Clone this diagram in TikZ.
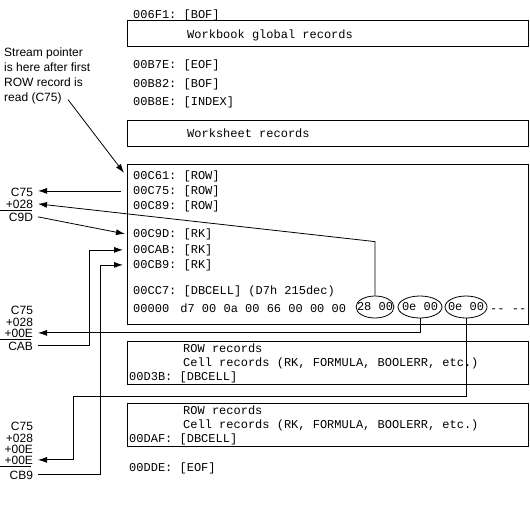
\documentclass[tikz,border=0pt]{standalone}
\usepackage{fontspec}
\setmonofont{Liberation Mono}
\setsansfont{Liberation Sans}
\usetikzlibrary{arrows.meta,shapes.geometric}

\begin{document}
\begin{tikzpicture}[
    x=1pt, y=-1pt,
    rec/.style={font=\ttfamily\fontsize{12}{14}\selectfont, inner sep=0pt, anchor=base west},
    tag/.style={font=\sffamily\fontsize{12}{13}\selectfont, inner sep=0pt, outer xsep=5pt, anchor=base east},
    frame/.style={draw, line width=0.8pt, anchor=north west, minimum width=401pt, inner sep=0pt},
    hexel/.style={draw, ellipse, line width=0.8pt, inner xsep=-6pt, inner ysep=0pt, minimum height=22pt,
                  font=\ttfamily\fontsize{12}{14}\selectfont},
    ptr/.style={-{Latex[length=9pt,width=6pt]}, line width=0.8pt}
  ]
    \useasboundingbox (0,0) rectangle (530,515);

    % workbook stream
    \node[rec] (bof1) at (133,18) {006F1: [BOF]};
    \node[frame, minimum height=26pt] (wbbox) at (127,20) {};
    \node[rec] (wbtxt) at (187,38) {Workbook global records};
    \node[rec] (eof1) at (133,68) {00B7E: [EOF]};
    \node[rec] (bof2) at (133,87) {00B82: [BOF]};
    \node[rec] (idx) at (133,105) {00B8E: [INDEX]};
    \node[frame, minimum height=26pt] (wsbox) at (127,120) {};
    \node[rec] (wstxt) at (187,137) {Worksheet records};

    % first row block
    \node[frame, minimum height=160pt] (blk1) at (127,164) {};
    \node[rec] (r61) at (133,179) {00C61: [ROW]};
    \node[rec] (r75) at (133,194) {00C75: [ROW]};
    \node[rec] (r89) at (133,209) {00C89: [ROW]};
    \node[rec] (r9D) at (133,237) {00C9D: [RK]};
    \node[rec] (rAB) at (133,253) {00CAB: [RK]};
    \node[rec] (rB9) at (133,268) {00CB9: [RK]};
    \node[rec] (rC7) at (133,294) {00CC7: [DBCELL] (D7h 215dec)};
    \node[rec] (hex) at (133,312) {00000\hspace{4pt} d7 00 0a 00 66 00 00 00};
    \node[hexel, minimum width=38pt] (e28) at (375,307) {28 00};
    \node[hexel, minimum width=44pt] (e0e1) at (420,307) {0e 00};
    \node[hexel, minimum width=42pt] (e0e2) at (466,307) {0e 00};
    \node[rec] (rest) at (490,312) {-{}- -{}-};

    % next row blocks
    \node[frame, minimum height=43pt] (blk2) at (127,341) {};
    \node[rec] (b2row) at (183,352) {ROW records};
    \node[rec] (b2cell) at (183,366) {Cell records (RK, FORMULA, BOOLERR, etc.)};
    \node[rec] (b2db) at (129,380) {00D3B: [DBCELL]};
    \node[frame, minimum height=43pt] (blk3) at (127,403) {};
    \node[rec] (b3row) at (183,414) {ROW records};
    \node[rec] (b3cell) at (183,428) {Cell records (RK, FORMULA, BOOLERR, etc.)};
    \node[rec] (b3db) at (129,442) {00DAF: [DBCELL]};
    \node[rec] (eof2) at (129,471) {00DDE: [EOF]};

    % offset sums
    \node[font=\sffamily\fontsize{12}{15}\selectfont, align=left, inner sep=0pt, anchor=north west]
      (note) at (4,48) {Stream pointer\\is here after first\\ROW record is\\read (C75)};
    \node[tag] (tC75a) at (38,196) {C75};
    \node[tag] (t028a) at (38,208) {+028};
    \node[tag] (tC9D) at (38,221) {C9D};
    \node[tag] (tC75b) at (38,314) {C75};
    \node[tag] (t028b) at (38,326) {+028};
    \node[tag] (t00Ea) at (38,337) {+00E};
    \node[tag] (tCAB) at (38,350) {CAB};
    \node[tag] (tC75c) at (38,430) {C75};
    \node[tag] (t028c) at (38,442) {+028};
    \node[tag] (t00Eb) at (38,453) {+00E};
    \node[tag] (t00Ec) at (38,464) {+00E};
    \node[tag] (tCB9) at (38,479) {CB9};
    \draw[line width=0.8pt] (t028a.south west) ++(-4,2) -- ++(35,0);
    \draw[line width=0.8pt] (t00Ea.south west) ++(-4,2) -- ++(35,0);
    \draw[line width=0.8pt] (t00Ec.south west) ++(-4,2) -- ++(35,0);

    % pointers
    \draw[ptr] ([xshift=64pt,yshift=5pt]note.south west) -- ([xshift=-9pt,yshift=3pt]r61.west);
    \draw[ptr] ([xshift=-12pt]r75.west) -- (r75.west -| tC75a.east);
    \draw[ptr] (e28.north) -- ++(0,-54) -- (t028a.east);
    \draw[ptr] (tC9D.east) -- ([xshift=-8pt]r9D.west);
    \draw[ptr] (tCAB.east) -- ++(51,0) |- ([xshift=-10pt]rAB.west);
    \draw[ptr] (tCB9.east) -- ++(62,0) |- ([xshift=-10pt]rB9.west);
    \draw[ptr] (e0e1.south) |- (t00Ea.east);
    \draw[ptr] (e0e2.south) |- ++(-393,78) |- (t00Ec.east);
  \end{tikzpicture}
\end{document}
